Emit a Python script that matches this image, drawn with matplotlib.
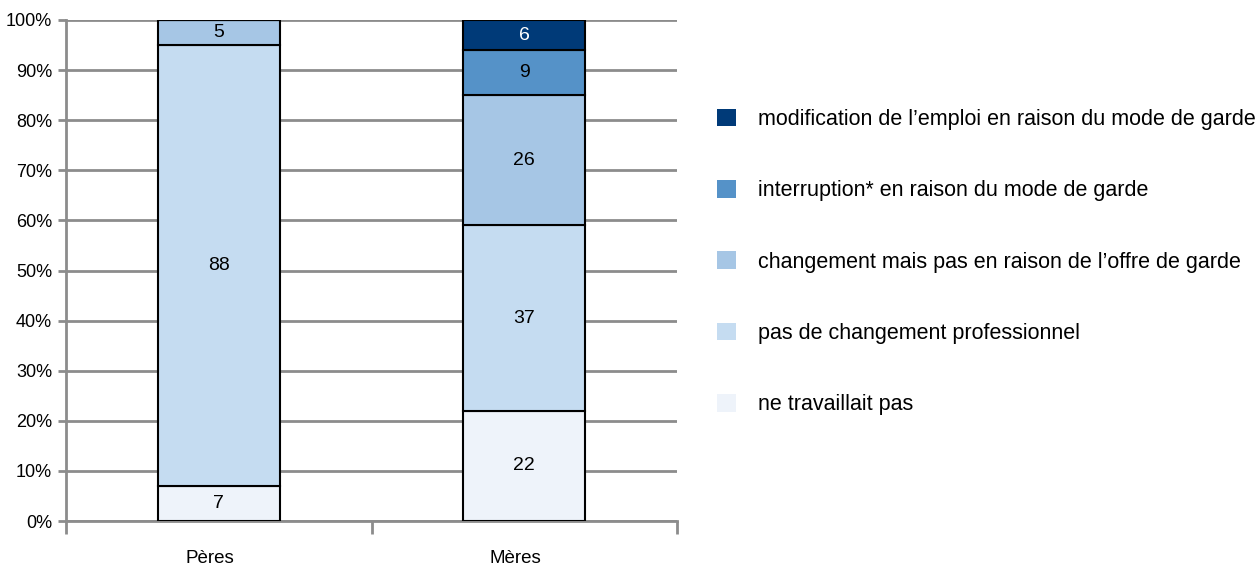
import matplotlib

matplotlib.use("Agg")
import matplotlib.pyplot as plt
import numpy as np
from matplotlib.patches import Patch

plt.rcParams["font.family"] = ["Liberation Sans", "DejaVu Sans"]

groups = ["Pères", "Mères"]
categories = [
    "ne travaillait pas",
    "pas de changement professionnel",
    "changement mais pas en raison de l’offre de garde",
    "interruption* en raison du mode de garde",
    "modification de l’emploi en raison du mode de garde",
]
values = {
    "ne travaillait pas": [7, 22],
    "pas de changement professionnel": [88, 37],
    "changement mais pas en raison de l’offre de garde": [5, 26],
    "interruption* en raison du mode de garde": [0, 9],
    "modification de l’emploi en raison du mode de garde": [0, 6],
}
colors = ["#EEF3FA", "#C5DCF1", "#A6C6E5", "#5592C8", "#003A78"]
label_colors = ["black", "black", "black", "black", "white"]
yticks = np.arange(0, 101, 10)

fig = plt.figure(figsize=(12.59, 5.68), dpi=100)
ax = fig.add_axes([66 / 1259, 1 - 521 / 568, (677 - 66) / 1259, (521 - 20) / 568])

x = np.arange(len(groups))
bottom = np.zeros(len(groups))
for cat, col, tcol in zip(categories, colors, label_colors):
    v = np.array(values[cat], dtype=float)
    ax.bar(x, v, 0.4, bottom=bottom, color=col, edgecolor="black", linewidth=1.5, zorder=3)
    for xi, vi, bi in zip(x, v, bottom):
        if vi > 0:
            ax.text(xi, bi + vi / 2, f"{vi:.0f}", ha="center", va="center",
                    fontsize=14, color=tcol, zorder=4)
    bottom += v

ax.set_xlim(-0.5, 1.5)
ax.set_ylim(0, 100)
ax.set_yticks(yticks)
ax.set_yticklabels([f"{t}%" for t in yticks], fontsize=13)
ax.yaxis.grid(True, color="#8c8c8c", linewidth=2, zorder=0)
ax.set_axisbelow(True)

# category boundary ticks on x axis, labels centered between them
ax.set_xticks([-0.5, 0.5, 1.5])
ax.set_xticklabels([])
ax.set_xticks(x - 0.03, minor=True)
ax.set_xticklabels(groups, minor=True, fontsize=13.5)
ax.tick_params(axis="x", which="major", length=9, width=2, color="#8c8c8c")
ax.tick_params(axis="x", which="minor", length=0, pad=21)
ax.tick_params(axis="y", length=6, width=2, color="#8c8c8c", pad=4)

for s in ("top", "right"):
    ax.spines[s].set_visible(False)
for s in ("left", "bottom"):
    ax.spines[s].set_color("#8c8c8c")
    ax.spines[s].set_linewidth(2)

handles = [Patch(facecolor=c, edgecolor="none") for c in colors][::-1]
fig.legend(handles, categories[::-1], loc="upper left",
           bbox_to_anchor=(708 / 1259, 1 - 100 / 568), frameon=False,
           fontsize=15.5, labelspacing=2.32, handlelength=0.9, handleheight=0.9,
           handletextpad=1.0, borderaxespad=0)

fig.savefig("out.png", dpi=100)
